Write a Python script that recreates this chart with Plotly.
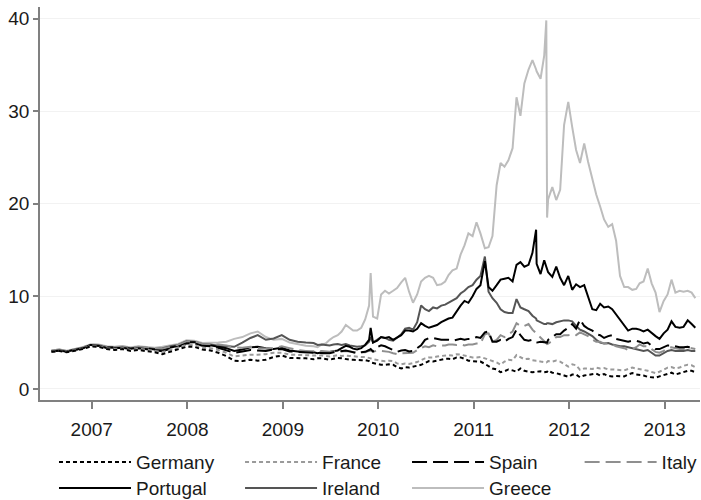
import plotly.graph_objects as go

# ---- dates: monthly Jan 2007 - Sep 2009, semi-monthly afterwards (plus a few event days)
dates_2007_2009 = [
    "2007-01-02", "2007-02-01", "2007-03-01", "2007-04-01", "2007-05-01", "2007-06-01",
    "2007-07-01", "2007-08-01", "2007-09-01", "2007-10-01", "2007-11-01", "2007-12-01",
    "2008-01-01", "2008-02-01", "2008-03-01", "2008-04-01", "2008-05-01", "2008-06-01",
    "2008-07-01", "2008-08-01", "2008-09-01", "2008-10-01", "2008-11-01", "2008-12-01",
    "2009-01-01", "2009-02-01", "2009-03-01", "2009-04-01", "2009-05-01", "2009-06-01",
    "2009-07-01", "2009-08-01", "2009-09-01",
    "2009-10-01", "2009-10-16", "2009-11-01", "2009-11-16", "2009-12-01", "2009-12-16",
]
dates_2010 = [
    "2010-01-01", "2010-01-16", "2010-02-01", "2010-02-16", "2010-03-01", "2010-03-16",
    "2010-04-01", "2010-04-16", "2010-05-01", "2010-05-07", "2010-05-16", "2010-06-01",
    "2010-06-16", "2010-07-01", "2010-07-16", "2010-08-01", "2010-08-16", "2010-09-01",
    "2010-09-16", "2010-10-01", "2010-10-16", "2010-11-01", "2010-11-16", "2010-12-01",
    "2010-12-16",
]
dates_2011 = [
    "2011-01-01", "2011-01-16", "2011-02-01", "2011-02-16", "2011-03-01", "2011-03-16",
    "2011-04-01", "2011-04-16", "2011-05-01", "2011-05-16", "2011-06-01", "2011-06-16",
    "2011-07-01", "2011-07-18", "2011-08-01", "2011-08-16", "2011-09-01", "2011-09-16",
    "2011-10-01", "2011-10-16", "2011-11-01", "2011-11-16", "2011-12-01", "2011-12-16",
]
dates_2012 = [
    "2012-01-01", "2012-01-16", "2012-01-30", "2012-02-01", "2012-02-16", "2012-03-01",
    "2012-03-09", "2012-03-12", "2012-03-16", "2012-04-01", "2012-04-16", "2012-05-01",
    "2012-05-16", "2012-06-01", "2012-06-16", "2012-07-01", "2012-07-16", "2012-08-01",
    "2012-08-16", "2012-09-01", "2012-09-16", "2012-10-01", "2012-10-16", "2012-11-01",
    "2012-11-16", "2012-12-01", "2012-12-16",
]
dates_2013 = [
    "2013-01-01", "2013-01-16", "2013-02-01", "2013-02-16", "2013-03-01", "2013-03-16",
    "2013-04-01", "2013-04-16", "2013-05-01", "2013-05-16", "2013-06-01", "2013-06-16",
    "2013-07-01", "2013-07-16", "2013-08-01", "2013-08-16", "2013-09-01", "2013-09-16",
    "2013-09-30",
]
dates = dates_2007_2009 + dates_2010 + dates_2011 + dates_2012 + dates_2013

# ---- 10-year government bond yields (%)
germany = [
    4.00, 4.10, 3.95, 4.15, 4.30, 4.60, 4.55, 4.30, 4.20, 4.30, 4.10, 4.20,
    4.10, 3.95, 3.75, 4.00, 4.25, 4.55, 4.55, 4.25, 4.15, 3.90, 3.55, 3.05,
    3.00, 3.15, 3.05, 3.15, 3.45, 3.60, 3.35, 3.35, 3.30,
    3.20, 3.30, 3.30, 3.25, 3.15, 3.25,
    3.35, 3.30, 3.20, 3.15, 3.15, 3.10, 3.10, 3.10, 3.00, 2.85, 2.80, 2.65, 2.60, 2.60, 2.65,
    2.60, 2.35, 2.20, 2.35, 2.30, 2.40, 2.45, 2.60, 2.80, 3.00,
    2.95, 3.05, 3.15, 3.25, 3.25, 3.20, 3.40, 3.40, 3.25, 3.05, 3.00, 2.95,
    2.95, 2.70, 2.45, 2.20, 2.10, 1.80, 1.90, 2.10, 2.00, 1.85, 2.20, 1.95,
    1.85, 1.80, 1.85, 1.85, 1.90, 1.80, 1.80, 1.85, 2.00, 1.75, 1.70, 1.60, 1.45, 1.30,
    1.55, 1.55, 1.25, 1.45, 1.50, 1.55, 1.65, 1.45, 1.60, 1.40, 1.35, 1.40, 1.35,
    1.35, 1.55, 1.70, 1.55, 1.50, 1.45, 1.30, 1.25, 1.20, 1.35, 1.50, 1.60,
    1.75, 1.55, 1.70, 1.85, 1.95, 1.95, 1.80,
]
france = [
    4.02, 4.12, 4.00, 4.20, 4.35, 4.65, 4.60, 4.38, 4.32, 4.40, 4.20, 4.35,
    4.25, 4.10, 3.98, 4.22, 4.45, 4.75, 4.75, 4.45, 4.40, 4.20, 3.90, 3.50,
    3.60, 3.70, 3.70, 3.75, 3.90, 3.90, 3.70, 3.65, 3.60,
    3.55, 3.60, 3.60, 3.55, 3.50, 3.55,
    3.65, 3.55, 3.60, 3.55, 3.50, 3.45, 3.45, 3.45, 3.40, 3.30, 3.20, 3.10, 3.05, 3.00, 3.05,
    3.00, 2.75, 2.65, 2.75, 2.70, 2.80, 2.90, 3.10, 3.30, 3.40,
    3.40, 3.50, 3.55, 3.65, 3.65, 3.60, 3.75, 3.70, 3.60, 3.45, 3.40, 3.40,
    3.45, 3.30, 3.15, 2.95, 2.85, 2.60, 2.95, 3.15, 3.10, 3.65, 3.40, 3.20,
    3.25, 3.10, 3.05, 3.05, 2.95, 2.85, 2.85, 2.90, 3.00, 2.95, 3.05, 2.95, 2.70, 2.40,
    2.65, 2.55, 2.05, 2.20, 2.20, 2.15, 2.30, 2.20, 2.25, 2.10, 2.10, 2.05, 2.00,
    2.00, 2.15, 2.30, 2.20, 2.10, 2.05, 1.95, 1.80, 1.70, 1.85, 2.05, 2.30,
    2.35, 2.20, 2.30, 2.50, 2.60, 2.55, 2.35,
]
spain = [
    4.05, 4.15, 4.02, 4.22, 4.38, 4.70, 4.65, 4.42, 4.38, 4.45, 4.28, 4.38,
    4.30, 4.15, 4.08, 4.35, 4.55, 4.90, 4.90, 4.65, 4.60, 4.45, 4.15, 3.90,
    4.05, 4.20, 4.15, 4.10, 4.25, 4.30, 4.05, 4.00, 3.95,
    3.85, 3.80, 3.85, 3.85, 3.85, 3.95,
    4.00, 4.05, 4.15, 4.05, 3.95, 3.85, 3.95, 4.00, 4.20, 4.30, 4.05, 4.50, 4.70, 4.60, 4.40,
    4.20, 4.00, 4.15, 4.20, 4.05, 4.10, 4.40, 4.70, 5.30, 5.50,
    5.50, 5.40, 5.30, 5.30, 5.30, 5.20, 5.30, 5.40, 5.30, 5.40, 5.40, 5.60,
    5.50, 6.10, 6.20, 5.10, 5.10, 5.30, 5.10, 5.40, 5.60, 6.40, 5.80, 5.30,
    5.20, 5.30, 5.00, 5.00, 5.10, 5.00, 5.00, 5.00, 5.30, 5.60, 5.90, 5.90, 6.30, 6.60,
    7.00, 6.50, 7.50, 6.80, 6.50, 6.30, 5.90, 5.80, 5.50, 5.70, 5.80, 5.40, 5.30,
    5.20, 5.10, 5.20, 5.20, 5.10, 4.90, 5.00, 4.60, 4.30, 4.30, 4.50, 4.70,
    4.70, 4.60, 4.50, 4.50, 4.55, 4.40, 4.30,
]
italy = [
    4.15, 4.25, 4.10, 4.30, 4.48, 4.78, 4.75, 4.55, 4.52, 4.58, 4.45, 4.55,
    4.45, 4.35, 4.35, 4.55, 4.75, 5.10, 5.15, 4.85, 4.85, 4.80, 4.70, 4.50,
    4.45, 4.55, 4.40, 4.35, 4.40, 4.60, 4.40, 4.20, 4.10,
    4.05, 4.05, 4.10, 4.05, 4.00, 4.05,
    4.10, 4.05, 4.10, 4.05, 4.00, 3.90, 3.95, 3.95, 4.10, 4.15, 4.00, 4.15, 4.10, 4.05, 4.00,
    3.85, 3.75, 3.85, 3.85, 3.85, 3.90, 4.20, 4.40, 4.60, 4.50,
    4.70, 4.60, 4.70, 4.70, 4.80, 4.80, 4.75, 4.80, 4.70, 4.80, 4.80, 4.90,
    4.90, 5.90, 6.00, 5.10, 5.30, 5.80, 5.60, 5.90, 6.20, 7.10, 6.80, 6.80,
    7.00, 6.40, 6.00, 5.90, 5.50, 5.10, 4.90, 4.85, 4.90, 5.20, 5.60, 5.60, 5.80, 5.80,
    5.90, 5.80, 6.10, 5.90, 5.70, 5.30, 5.10, 5.10, 4.90, 4.90, 4.80, 4.60, 4.50,
    4.40, 4.20, 4.30, 4.50, 4.80, 4.60, 4.60, 4.30, 4.00, 3.90, 4.10, 4.40,
    4.50, 4.40, 4.30, 4.30, 4.45, 4.40, 4.30,
]
portugal = [
    4.08, 4.18, 4.05, 4.25, 4.42, 4.75, 4.70, 4.48, 4.45, 4.50, 4.35, 4.45,
    4.35, 4.25, 4.25, 4.45, 4.65, 5.00, 5.05, 4.75, 4.70, 4.55, 4.40, 4.10,
    4.25, 4.50, 4.55, 4.40, 4.30, 4.45, 4.15, 4.05, 4.05,
    3.95, 3.85, 3.95, 3.90, 4.00, 4.05,
    4.15, 4.40, 4.65, 4.55, 4.35, 4.25, 4.40, 4.75, 5.30, 6.60, 5.00, 5.20, 5.60, 5.50, 5.60,
    5.30, 5.50, 5.80, 6.30, 6.30, 6.20, 6.50, 7.10, 6.80, 6.60,
    6.80, 6.90, 7.20, 7.40, 7.60, 7.70, 8.40, 9.00, 9.50, 9.30, 10.00, 10.80,
    11.20, 13.80, 11.00, 10.60, 11.20, 11.80, 11.90, 12.00, 11.60, 13.40, 13.70, 13.20,
    13.40, 14.70, 17.20, 13.50, 12.40, 13.90, 13.20, 13.00, 12.60, 12.10, 13.20, 12.00, 11.20, 12.20,
    10.70, 11.30, 11.00, 11.20, 10.00, 8.60, 8.50, 9.20, 8.80, 8.90, 8.60, 8.00, 7.50,
    6.80, 6.30, 6.50, 6.50, 6.40, 6.20, 6.40, 6.00, 5.70, 5.40, 6.00, 6.40,
    7.30, 6.70, 6.60, 6.70, 7.40, 7.00, 6.60,
]
ireland = [
    4.05, 4.15, 4.05, 4.25, 4.40, 4.75, 4.70, 4.50, 4.45, 4.50, 4.40, 4.50,
    4.45, 4.30, 4.40, 4.60, 4.75, 5.15, 5.10, 4.85, 4.80, 4.65, 4.60, 4.55,
    5.00, 5.50, 5.80, 5.30, 5.45, 5.80, 5.30, 5.10, 5.00,
    4.95, 4.75, 4.80, 4.75, 4.70, 4.80,
    4.85, 4.75, 4.85, 4.70, 4.60, 4.55, 4.60, 4.70, 5.10, 5.60, 5.00, 5.30, 5.60, 5.50, 5.30,
    5.20, 5.50, 5.90, 6.50, 6.60, 6.40, 7.20, 9.00, 8.60, 8.40,
    8.80, 8.70, 9.00, 9.10, 9.30, 9.60, 9.80, 10.30, 10.60, 11.00, 11.20, 11.80,
    12.20, 14.30, 10.50, 9.80, 9.30, 8.60, 8.30, 8.20, 8.20, 9.70, 8.80, 8.60,
    8.40, 7.90, 7.60, 7.40, 7.20, 7.00, 7.00, 7.10, 7.10, 7.00, 7.20, 7.30, 7.40, 7.40,
    7.30, 6.80, 6.40, 6.20, 6.00, 5.70, 5.30, 5.00, 4.90, 4.95, 4.80, 4.70, 4.60,
    4.60, 4.50, 4.40, 4.30, 4.20, 4.10, 4.20, 3.90, 3.60, 3.60, 3.90, 4.10,
    4.20, 4.10, 4.10, 4.10, 4.20, 4.10, 4.10,
]
greece = [
    4.15, 4.25, 4.12, 4.35, 4.50, 4.82, 4.80, 4.60, 4.55, 4.60, 4.50, 4.60,
    4.50, 4.45, 4.55, 4.70, 4.85, 5.25, 5.20, 4.95, 4.95, 5.00, 5.10, 5.40,
    5.60, 6.00, 6.20, 5.60, 5.30, 5.40, 5.00, 4.85, 4.65,
    4.60, 4.50, 4.80, 4.90, 5.30, 5.60,
    5.80, 6.20, 6.90, 6.60, 6.30, 6.30, 6.60, 7.50, 9.00, 12.50, 7.80, 7.60, 10.20, 10.60, 10.30,
    10.60, 10.90, 11.50, 12.00, 10.50, 9.30, 10.20, 11.60, 12.00, 12.20,
    12.00, 11.20, 11.30, 11.60, 12.30, 12.80, 13.00, 14.50, 15.50, 16.80, 16.50, 18.00,
    16.80, 15.20, 15.30, 16.50, 22.00, 24.40, 24.00, 24.70, 26.00, 31.50, 29.50, 33.00,
    34.50, 35.50, 34.50, 34.30, 33.50, 36.00, 39.80, 18.50, 20.50, 21.80, 20.40, 21.50, 28.50, 31.00,
    28.30, 25.80, 24.40, 26.50, 24.50, 22.60, 21.00, 19.70, 18.30, 17.50, 17.80, 16.00, 12.20,
    11.00, 11.00, 10.70, 10.80, 11.40, 11.60, 13.00, 11.40, 10.40, 8.30, 9.50, 10.20,
    11.80, 10.40, 10.60, 10.50, 10.60, 10.40, 9.80,
]

countries = ["Germany", "France", "Spain", "Italy", "Portugal", "Ireland", "Greece"]
series = [germany, france, spain, italy, portugal, ireland, greece]

tick_vals = ["2007-06-05", "2008-06-05", "2009-06-05", "2010-06-05",
             "2011-06-05", "2012-06-05", "2013-06-05"]
tick_text = ["2007", "2008", "2009", "2010", "2011", "2012", "2013"]
y_ticks = [0, 10, 20, 30, 40]

# ---- styles
FONT = "Liberation Sans, Arial, sans-serif"
colors = ["#000000", "#9a9a9a", "#000000", "#8f8f8f", "#000000", "#555555", "#bdbdbd"]
dashes = ["4px,3px", "4px,3px", "15px,6px", "15px,6px", "solid", "solid", "solid"]
# legend placement (paper coords) per entry: (x, y)
legend_pos = [(0.0212, -0.158), (0.3031, -0.158), (0.5561, -0.158), (0.8176, -0.158),
              (0.0212, -0.224), (0.3031, -0.224), (0.5561, -0.224)]

fig = go.Figure()
layout_legends = {}
for i, (name, vals) in enumerate(zip(countries, series)):
    lname = "legend" if i == 0 else f"legend{i+1}"
    fig.add_trace(go.Scatter(
        x=dates, y=vals, mode="lines", name=name,
        line=dict(color=colors[i], width=2, dash=dashes[i]),
        legend=lname,
    ))
    lx, ly = legend_pos[i]
    layout_legends[lname] = dict(
        x=lx, y=ly, xanchor="left", yanchor="middle",
        bgcolor="rgba(0,0,0,0)", borderwidth=0,
        font=dict(family=FONT, size=19, color="#1a1a1a"),
        itemwidth=72,
    )

# draw order: lighter lines at back
fig.data = tuple(fig.data[i] for i in [6, 5, 4, 3, 2, 1, 0])

fig.update_layout(
    width=701, height=500,
    margin=dict(l=40, r=1, t=7, b=100, autoexpand=False),
    paper_bgcolor="white", plot_bgcolor="white",
    showlegend=True,
    font=dict(family=FONT, size=19, color="#1a1a1a"),
    xaxis=dict(
        range=["2006-11-19", "2013-10-18"],
        tickvals=tick_vals, ticktext=tick_text,
        showgrid=False, zeroline=False,
        showline=True, linecolor="#808080", linewidth=1.5,
        ticks="outside", ticklen=7, tickcolor="#808080", tickwidth=1.5,
        tickfont=dict(family=FONT, size=19, color="#1a1a1a"),
        ticklabelstandoff=4,
    ),
    yaxis=dict(
        range=[-1.2, 41.25],
        tickvals=y_ticks,
        showgrid=True, gridcolor="#f2f2f2", gridwidth=1,
        zeroline=False,
        showline=True, linecolor="#808080", linewidth=1.5,
        ticks="outside", ticklen=5, tickcolor="#808080", tickwidth=1.5,
        tickfont=dict(family=FONT, size=19, color="#1a1a1a"),
    ),
    **layout_legends,
)

fig.write_html("out.html", config={"displayModeBar": False},
               post_script="document.body.style.margin='0px';")
